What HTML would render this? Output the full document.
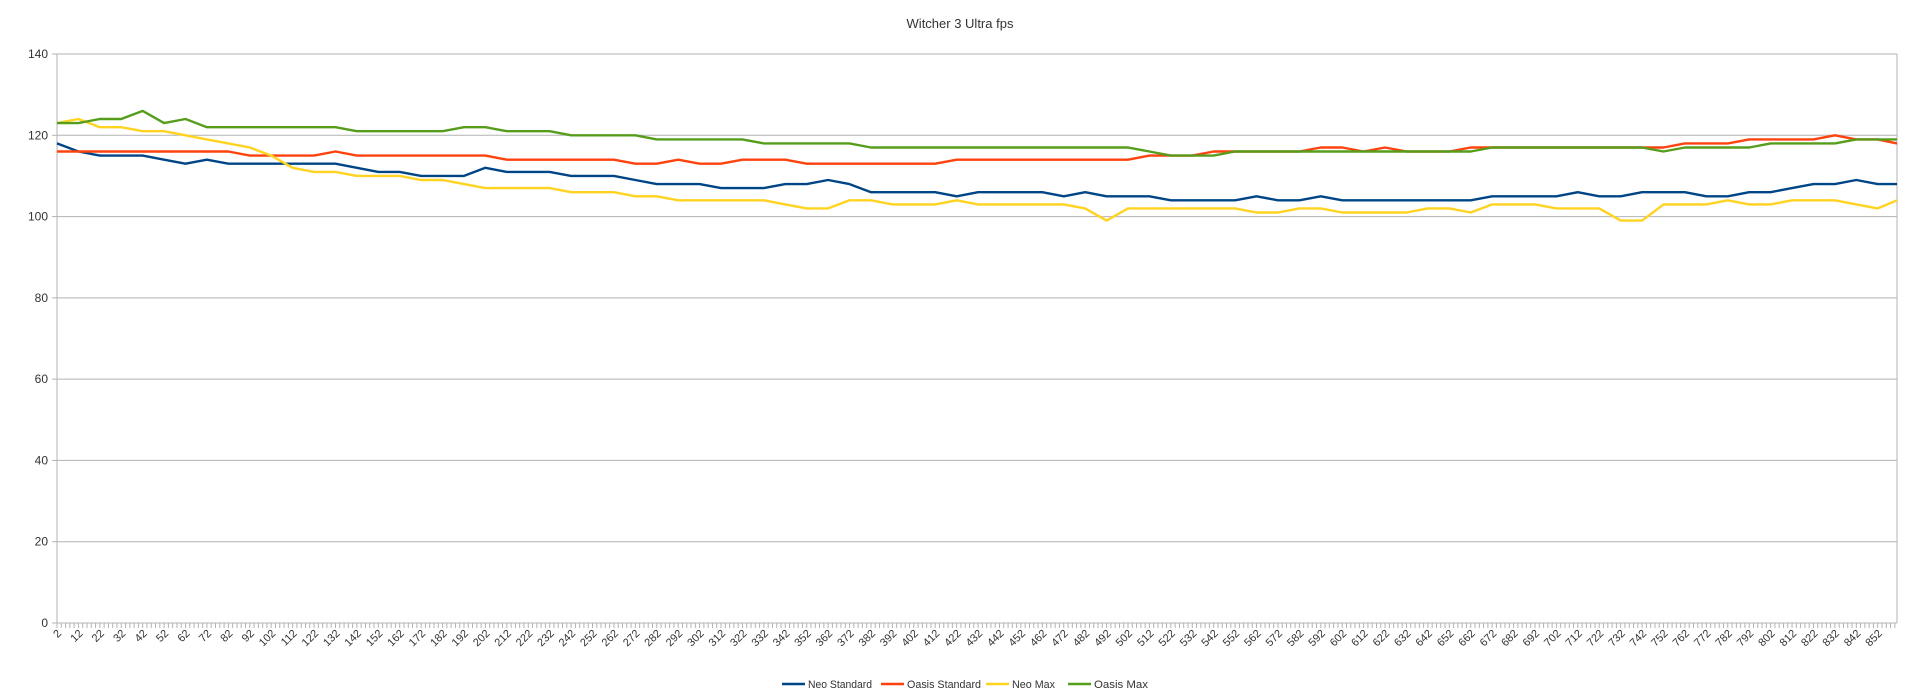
<!DOCTYPE html>
<html><head><meta charset="utf-8">
<style>
html,body{margin:0;padding:0;background:#fff;}
body{width:1920px;height:693px;overflow:hidden;font-family:"Liberation Sans",Arial,sans-serif;}
svg text{font-family:"Liberation Sans",Arial,sans-serif;fill:#333;}
</style></head>
<body>
<svg id="chart" width="1920" height="693" viewBox="0 0 1920 693" xmlns="http://www.w3.org/2000/svg">
  <text x="960" y="28" font-size="13" text-anchor="middle">Witcher 3 Ultra fps</text>
  <g id="grid"></g>
  <g id="yticks"></g>
  <g id="xticks"></g>
  <g id="series"></g>
  <g id="legend"></g>
</svg>
<script>
const yTicks = [0,20,40,60,80,100,120,140];
const xStart = 2;
const xStep = 10;
const seriesNames = ["Neo Standard","Oasis Standard","Neo Max","Oasis Max"];
const seriesColors = ["#004586","#ff420e","#ffd320","#579d1c"];
const neoStandard = [118,116,115,115,115,114,113,114,113,113,113,113,113,113,112,111,111,110,110,110,112,111,111,111,110,110,110,109,108,108,108,107,107,107,108,108,109,108,106,106,106,106,105,106,106,106,106,105,106,105,105,105,104,104,104,104,105,104,104,105,104,104,104,104,104,104,104,105,105,105,105,106,105,105,106,106,106,105,105,106,106,107,108,108,109,108,108];
const oasisStandard = [116,116,116,116,116,116,116,116,116,115,115,115,115,116,115,115,115,115,115,115,115,114,114,114,114,114,114,113,113,114,113,113,114,114,114,113,113,113,113,113,113,113,114,114,114,114,114,114,114,114,114,115,115,115,116,116,116,116,116,117,117,116,117,116,116,116,117,117,117,117,117,117,117,117,117,117,118,118,118,119,119,119,119,120,119,119,118];
const neoMax = [123,124,122,122,121,121,120,119,118,117,115,112,111,111,110,110,110,109,109,108,107,107,107,107,106,106,106,105,105,104,104,104,104,104,103,102,102,104,104,103,103,103,104,103,103,103,103,103,102,99,102,102,102,102,102,102,101,101,102,102,101,101,101,101,102,102,101,103,103,103,102,102,102,99,99,103,103,103,104,103,103,104,104,104,103,102,104];
const oasisMax = [123,123,124,124,126,123,124,122,122,122,122,122,122,122,121,121,121,121,121,122,122,121,121,121,120,120,120,120,119,119,119,119,119,118,118,118,118,118,117,117,117,117,117,117,117,117,117,117,117,117,117,116,115,115,115,116,116,116,116,116,116,116,116,116,116,116,116,117,117,117,117,117,117,117,117,116,117,117,117,117,118,118,118,118,119,119,119];
const allSeries = [neoStandard, oasisStandard, neoMax, oasisMax];

const NS="http://www.w3.org/2000/svg";
const L=57,R=1897,T=54,B=623;
const xMax = 861;
function xPos(v){return L+(v-xStart)/(xMax-xStart)*(R-L);}
function yPos(v){return B-(v/140)*(B-T);}
function mk(tag,attrs,parent){const e=document.createElementNS(NS,tag);for(const k in attrs)e.setAttribute(k,attrs[k]);parent.appendChild(e);return e;}

const grid=document.getElementById('grid'),yt=document.getElementById('yticks'),xt=document.getElementById('xticks'),sg=document.getElementById('series'),lg=document.getElementById('legend');
yTicks.forEach(v=>{
  const y=yPos(v);
  const gl=mk('line',{x1:L,x2:R,y1:y,y2:y,stroke:'#b3b3b3','stroke-width':1},grid);
  
  
  mk('line',{x1:L-5,x2:L,y1:y,y2:y,stroke:'#b3b3b3'},yt);
  const t=mk('text',{x:L-9,y:y+4,'font-size':12,'text-anchor':'end'},yt);
  t.textContent=v;
  
  
});
mk('line',{x1:L,x2:L,y1:T,y2:B,stroke:'#b3b3b3'},yt);
mk('line',{x1:R,x2:R,y1:T,y2:B,stroke:'#b3b3b3'},yt);
for(let v=xStart;v<=xMax;v+=2){
  const x=xPos(v);
  mk('line',{x1:x,x2:x,y1:B,y2:B+5,stroke:'#b3b3b3'},xt);
}
for(let v=xStart;v<=852;v+=10){
  const x=xPos(v);
  const t=mk('text',{x:x+5,y:B+11,'font-size':11,'text-anchor':'end',transform:'rotate(-45 '+(x+5)+' '+(B+11)+')'},xt);
  t.textContent=v;
  
  
}
allSeries.forEach((arr,si)=>{
  const pts=arr.map((v,i)=>xPos(Math.min(xStart+i*xStep,xMax)).toFixed(1)+','+yPos(v).toFixed(1)).join(' ');
  const p=mk('polyline',{points:pts,fill:'none',stroke:seriesColors[si],'stroke-width':2.4,'stroke-linejoin':'round'},sg);
  
  
});
const legX=[782,881,986,1068];
const legW=[64,74,43,54];
seriesNames.forEach((n,i)=>{
  const g=mk('g',{},lg);
  
  
  mk('line',{x1:legX[i],x2:legX[i]+23,y1:684,y2:684,stroke:seriesColors[i],'stroke-width':2.4},g);
  const t=mk('text',{x:legX[i]+26,y:688,'font-size':11,textLength:legW[i],lengthAdjust:'spacingAndGlyphs'},g);
  t.textContent=n;
});
</script>
</body></html>
